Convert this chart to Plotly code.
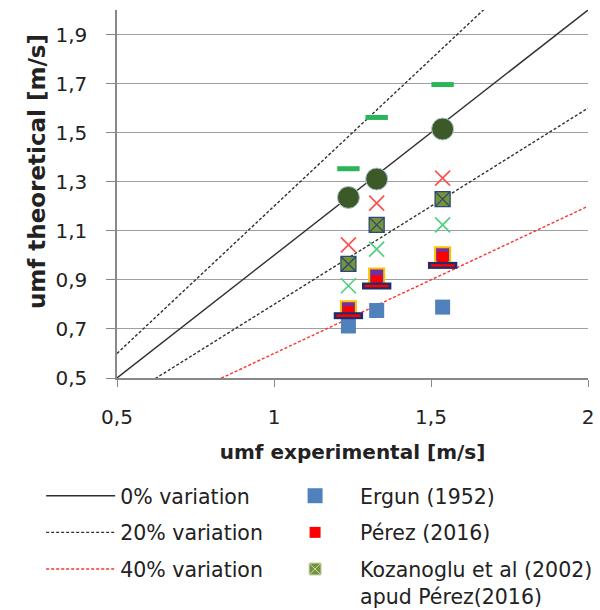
import plotly.graph_objects as go

# ---- data ----
x_exp = [1.237, 1.327, 1.537]
ergun = [0.712, 0.775, 0.789]
perez = [0.77, 0.896, 0.992]
kozanoglu = [0.965, 1.124, 1.229]
green_dash = [1.353, 1.562, 1.696]
dark_circles = [1.236, 1.311, 1.515]
red_x = [1.043, 1.213, 1.315]
green_x = [0.876, 1.025, 1.124]
yellow_sq = [0.782, 0.916, 1.002]
navy_dash = [0.754, 0.875, 0.959]
red_dash = [0.754, 0.875, 0.959]

line_x = [0.5, 2.0]
variation_factors = {"0% variation": [1.0], "20% variation": [1.2, 0.8], "40% variation": [0.6]}

y_ticks = [0.5, 0.7, 0.9, 1.1, 1.3, 1.5, 1.7, 1.9]
x_ticks = [0.5, 1, 1.5, 2]

FONT = "DejaVu Sans"
fig = go.Figure()

line_styles = {
    "0% variation": dict(color="#303030", width=1.4, dash="solid"),
    "20% variation": dict(color="#303030", width=1.4, dash="3px,2px"),
    "40% variation": dict(color="#ff3030", width=1.4, dash="3px,2px"),
}
for name, factors in variation_factors.items():
    for i, k in enumerate(factors):
        fig.add_trace(go.Scatter(
            x=line_x, y=[k * v for v in line_x], mode="lines", name=name,
            line=line_styles[name], legend="legend", legendgroup=name,
            showlegend=(i == 0), hoverinfo="skip"))

def mk(y, name, show, **marker):
    fig.add_trace(go.Scatter(x=x_exp, y=y, mode="markers", name=name,
                             marker=marker, legend="legend2", legendgroup=name,
                             showlegend=show))

mk(ergun, "Ergun (1952)", True, symbol="square", size=15, color="#4f81bd",
   line=dict(width=0))
mk(green_x, "g_x", False, symbol="x-thin", size=15, line=dict(width=1.7, color="#4fcf7f"))
mk(red_x, "r_x", False, symbol="x-thin", size=15, line=dict(width=1.7, color="#ff5050"))
mk(kozanoglu, "koz", False, symbol="square-x", size=15,
   color="#76923c", line=dict(width=1.3, color="#2a4a70"))
mk(yellow_sq, "yellow", False, symbol="square", size=15, color="#7030a0",
   line=dict(width=2, color="#ffc000"))
mk(perez, "Pérez (2016)", True, symbol="square", size=11, color="#ff0000",
   line=dict(width=0))
mk(navy_dash, "navy", False, symbol="line-ew", size=21, line=dict(width=7, color="#1f2d6b"))
mk(red_dash, "red_dash", False, symbol="line-ew", size=17, line=dict(width=2.5, color="#ff0000"))
mk(green_dash, "green_dash", False, symbol="line-ew", size=16, line=dict(width=5, color="#2bb55a"))
mk(dark_circles, "circles", False, symbol="circle", size=22, color="#3b5a28",
   line=dict(width=1, color="#b4c4dc"))
# legend entry for Kozanoglu (data drawn above)
fig.add_trace(go.Scatter(x=[None], y=[None], mode="markers",
                         name="Kozanoglu et al (2002)<br>apud Pérez(2016)",
                         marker=dict(symbol="square-x", size=12, color="#76923c",
                                     line=dict(width=1, color="#c8d8b0")),
                         legend="legend2", legendgroup="koz_leg", showlegend=True))

fig.update_layout(
    width=600, height=610, autosize=False,
    margin=dict(l=117, r=12, t=10, b=232, autoexpand=False),
    paper_bgcolor="white", plot_bgcolor="white",
    separators=",.",
    font=dict(family=FONT, size=20, color="#222222"),
    xaxis=dict(range=[0.5, 2.0], tickvals=x_ticks, ticks="outside", ticklen=7,
               tickcolor="#888888", showgrid=False, zeroline=False,
               showline=True, linecolor="#888888", linewidth=1.5,
               ticklabelstandoff=13, automargin=False,
               title=dict(text="<b>umf experimental [m/s]</b>", standoff=17,
                          font=dict(size=20))),
    yaxis=dict(range=[0.5, 2.0], tickvals=y_ticks, tickformat=".1f", ticks="outside",
               ticklen=9, tickcolor="#888888", showgrid=True, gridcolor="#a0a0a0",
               gridwidth=1.4, zeroline=False, showline=True, linecolor="#888888",
               linewidth=1.5, ticklabelstandoff=15, automargin=False),
    annotations=[dict(text="<b>umf theoretical [m/s]</b>", textangle=-90,
                      xref="paper", yref="paper", x=(37 - 117) / 471,
                      y=(378 - 172) / 368, xanchor="center", yanchor="middle",
                      showarrow=False, font=dict(size=23))],
    legend=dict(x=-0.161, xanchor="left", y=-0.266, yanchor="top",
                orientation="v", itemwidth=69, tracegroupgap=7,
                font=dict(size=20.5), bgcolor="rgba(0,0,0,0)", valign="top"),
    legend2=dict(x=0.325, xanchor="left", y=-0.266, yanchor="top",
                 orientation="v", itemwidth=80, tracegroupgap=7,
                 font=dict(size=20.5), bgcolor="rgba(0,0,0,0)", valign="top"),
)

fig.write_html("out.html", config={"displayModeBar": False},
               post_script="document.body.style.margin='0';document.body.style.overflow='hidden';")
